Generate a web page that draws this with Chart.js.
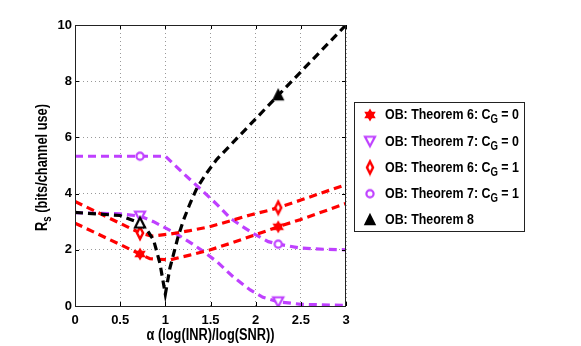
<!DOCTYPE html>
<html><head><meta charset="utf-8">
<script src="https://cdn.jsdelivr.net/npm/chart.js@4/dist/chart.umd.min.js"></script>
<style>html,body{margin:0;padding:0;background:#fff;}canvas{display:block;}</style>
</head><body>
<canvas id="c" width="581" height="346" style="width:581px;height:346px"></canvas>
<script>
// ---- data ----
const xTickValues = [0, 0.5, 1, 1.5, 2, 2.5, 3];
const yTickValues = [0, 2, 4, 6, 8, 10];
const xTitle = 'α (log(INR)/log(SNR))';
const yTitleMain = 'R', yTitleSub = 's', yTitleRest = ' (bits/channel use)';

const legendMain = ['OB: Theorem 6: C', 'OB: Theorem 7: C', 'OB: Theorem 6: C', 'OB: Theorem 7: C', 'OB: Theorem 8'];
const legendSub  = ['G', 'G', 'G', 'G', ''];
const legendRest = [' = 0', ' = 0', ' = 1', ' = 1', ''];

// Theorem 6, C_G = 0 (red, hexagram)
const alphaT6C0 = [0, 0.72, 0.83, 1.05, 1.27, 1.49, 1.72, 1.94, 2.25, 2.5, 3];
const rateT6C0  = [2.95, 1.85, 1.68, 1.64, 1.81, 1.99, 2.23, 2.47, 2.82, 3.08, 3.65];
// Theorem 7, C_G = 0 (purple, triangle down)
const alphaT7C0 = [0, 0.5, 0.72, 0.87, 1.11, 1.29, 1.4, 1.57, 1.75, 1.94, 2.08, 2.25, 2.5, 3];
const rateT7C0  = [3.32, 3.28, 3.2, 3.0, 2.59, 2.23, 1.99, 1.58, 1.04, 0.57, 0.31, 0.15, 0.06, 0.02];
// Theorem 6, C_G = 1 (red, diamond)
const alphaT6C1 = [0, 0.72, 0.85, 1.05, 1.27, 1.49, 1.72, 1.94, 2.14, 2.25, 2.5, 3];
const rateT6C1  = [3.72, 2.6, 2.49, 2.56, 2.68, 2.82, 3.03, 3.24, 3.4, 3.5, 3.77, 4.32];
// Theorem 7, C_G = 1 (purple, circle)
const alphaT7C1 = [0, 0.72, 1.0, 1.2, 1.38, 1.57, 1.72, 1.83, 1.97, 2.14, 2.25, 2.5, 2.75, 3];
const rateT7C1  = [5.33, 5.33, 5.33, 4.72, 4.19, 3.62, 3.12, 2.88, 2.59, 2.29, 2.2, 2.06, 2.02, 2.0];
// Theorem 8 (black, triangle up)
const alphaT8 = [0, 0.5, 0.72, 0.8, 0.87, 0.94, 1.0, 1.05, 1.14, 1.2, 1.27, 1.35, 1.45, 1.57, 2.25, 3];
const rateT8  = [3.33, 3.22, 2.95, 2.7, 2.35, 1.52, 0.42, 1.34, 2.45, 3.05, 3.62, 4.2, 4.7, 5.22, 7.5, 10];

// marker positions
const markerAlpha = [0.72, 2.25];
const markT6C0 = [1.85, 2.82];
const markT7C0 = [3.2, 0.15];
const markT6C1 = [2.6, 3.5];
const markT7C1 = [5.33, 2.2];
const markT8   = [2.95, 7.5];

// ---- styling ----
const FONT = "'Liberation Sans', Arial, sans-serif";
const RED = '#ff0000', PURPLE = '#bf40ff', BLACK = '#000000';
const SQ = 0.8; // horizontal condensation of the hand-drawn texts

function mk(w, h, draw) {
  const c = document.createElement('canvas'); c.width = w; c.height = h;
  const g = c.getContext('2d'); draw(g, w / 2, h / 2); return c;
}
function poly(g, pts) { g.beginPath(); pts.forEach((p, i) => i ? g.lineTo(p[0], p[1]) : g.moveTo(p[0], p[1])); g.closePath(); }

const mStar = mk(16, 16, (g, cx, cy) => {
  g.fillStyle = RED; const r = 6.6;
  for (let k = 0; k < 2; k++) {
    const pts = [];
    for (let i = 0; i < 3; i++) { const a = -Math.PI / 2 + k * Math.PI + i * 2 * Math.PI / 3; pts.push([cx + r * Math.cos(a), cy + r * Math.sin(a)]); }
    poly(g, pts); g.fill();
  }
});
const mTriDown = mk(16, 16, (g, cx, cy) => {
  poly(g, [[cx - 5, cy - 4.5], [cx + 5, cy - 4.5], [cx, cy + 5]]);
  g.fillStyle = '#fff'; g.fill(); g.lineWidth = 2.2; g.strokeStyle = PURPLE; g.stroke();
});
const mDiamond = mk(12, 18, (g, cx, cy) => {
  poly(g, [[cx, cy - 6], [cx + 3, cy], [cx, cy + 6], [cx - 3, cy]]);
  g.fillStyle = '#fff'; g.fill(); g.lineWidth = 2.5; g.strokeStyle = RED; g.stroke();
});
const mCircle = mk(14, 14, (g, cx, cy) => {
  g.beginPath(); g.arc(cx, cy, 3.6, 0, 2 * Math.PI);
  g.fillStyle = '#fff'; g.fill(); g.lineWidth = 2.2; g.strokeStyle = PURPLE; g.stroke();
});
const mTriUpOpen = mk(16, 16, (g, cx, cy) => {
  poly(g, [[cx, cy - 5.5], [cx + 5, cy + 4.5], [cx - 5, cy + 4.5]]);
  g.fillStyle = '#fff'; g.fill(); g.lineWidth = 2.2; g.strokeStyle = BLACK; g.stroke();
});
const mTriUp = mk(16, 16, (g, cx, cy) => {
  poly(g, [[cx, cy - 5.5], [cx + 5, cy + 4.5], [cx - 5, cy + 4.5]]);
  g.fillStyle = BLACK; g.fill(); g.lineWidth = 1.5; g.strokeStyle = BLACK; g.stroke();
});
const legendMarkers = [mStar, mTriDown, mDiamond, mCircle, mTriUp];

const pts = (xs, ys) => xs.map((x, i) => ({ x, y: ys[i] }));
const lineDs = (xs, ys, color) => ({
  type: 'line', data: pts(xs, ys), borderColor: color, borderWidth: 3.2, borderDash: [8, 5],
  pointRadius: 0, fill: false, tension: 0, borderCapStyle: 'butt'
});
const markDs = (ys, style) => ({
  type: 'line', data: pts(markerAlpha, ys), showLine: false, pointStyle: style,
  pointRadius: 6, borderWidth: 0, backgroundColor: 'transparent'
});

// draws text horizontally condensed (narrow Helvetica look)
function narrowText(ctx, txt, x, y, font) {
  ctx.save(); ctx.font = font; ctx.translate(x, y); ctx.scale(SQ, 1);
  ctx.fillText(txt, 0, 0); const w = ctx.measureText(txt).width * SQ; ctx.restore(); return w;
}
function narrowWidth(ctx, txt, font) { ctx.save(); ctx.font = font; const w = ctx.measureText(txt).width * SQ; ctx.restore(); return w; }

const chromePlugin = {
  id: 'chrome',
  afterDraw(chart) {
    const { ctx, chartArea: a, scales } = chart;
    ctx.save();
    // ticks inward
    ctx.strokeStyle = '#000'; ctx.lineWidth = 1;
    ctx.beginPath();
    xTickValues.forEach(v => {
      const x = Math.round(scales.x.getPixelForValue(v)) + 0.5;
      ctx.moveTo(x, a.bottom); ctx.lineTo(x, a.bottom - 4);
      ctx.moveTo(x, a.top); ctx.lineTo(x, a.top + 4);
    });
    yTickValues.forEach(v => {
      const y = Math.round(scales.y.getPixelForValue(v)) + 0.5;
      ctx.moveTo(a.left, y); ctx.lineTo(a.left + 4, y);
      ctx.moveTo(a.right, y); ctx.lineTo(a.right - 4, y);
    });
    ctx.stroke();
    // box
    ctx.strokeStyle = '#222'; ctx.lineWidth = 1;
    ctx.strokeRect(a.left + 0.5, a.top + 0.5, a.right - a.left - 1, a.bottom - a.top);

    ctx.fillStyle = '#000';
    ctx.textAlign = 'left'; ctx.textBaseline = 'middle';
    // x title
    const fT = 'bold 16px ' + FONT;
    const wx = narrowWidth(ctx, xTitle, fT);
    narrowText(ctx, xTitle, (a.left + a.right) / 2 - wx / 2, 336, fT);

    // y title with subscript
    ctx.save();
    ctx.translate(43, (a.top + a.bottom) / 2 + 2);
    ctx.rotate(-Math.PI / 2);
    const fSub = 'bold 12px ' + FONT;
    const w1 = narrowWidth(ctx, yTitleMain, fT), w2 = narrowWidth(ctx, yTitleSub, fSub), w3 = narrowWidth(ctx, yTitleRest, fT);
    let x0 = -(w1 + w2 + w3) / 2;
    x0 += narrowText(ctx, yTitleMain, x0, 0, fT);
    x0 += narrowText(ctx, yTitleSub, x0, 5, fSub);
    narrowText(ctx, yTitleRest, x0, 0, fT);
    ctx.restore();

    // legend
    const L = 354, T = 102, R = 524, B = 231;
    ctx.fillStyle = '#fff'; ctx.fillRect(L, T, R - L, B - T);
    ctx.strokeStyle = '#222'; ctx.lineWidth = 1; ctx.strokeRect(L + 0.5, T + 0.5, R - L, B - T);
    ctx.fillStyle = '#000';
    const fL = 'bold 15.5px ' + FONT, fLs = 'bold 12px ' + FONT;
    legendMain.forEach((txt, i) => {
      const y = 115 + i * 26.25;
      const m = legendMarkers[i];
      ctx.drawImage(m, 370 - m.width / 2, y - m.height / 2);
      let x = 385;
      x += narrowText(ctx, txt, x, y, fL);
      if (legendSub[i]) x += narrowText(ctx, legendSub[i], x, y + 5, fLs);
      if (legendRest[i]) narrowText(ctx, legendRest[i], x, y, fL);
    });
    ctx.restore();
  }
};

Chart.defaults.font.family = FONT;
Chart.defaults.font.size = 13;
Chart.defaults.font.weight = 'bold';
Chart.defaults.color = '#000';

new Chart(document.getElementById('c'), {
  type: 'line',
  data: {
    datasets: [
      markDs(markT8, [mTriUpOpen, mTriUp]),
      markDs(markT7C1, mCircle),
      markDs(markT6C1, mDiamond),
      markDs(markT7C0, mTriDown),
      markDs(markT6C0, mStar),
      lineDs(alphaT8, rateT8, BLACK),
      lineDs(alphaT6C1, rateT6C1, RED),
      lineDs(alphaT6C0, rateT6C0, RED),
      lineDs(alphaT7C0, rateT7C0, PURPLE),
      lineDs(alphaT7C1, rateT7C1, PURPLE)
    ]
  },
  options: {
    responsive: false, animation: false, devicePixelRatio: 1,
    layout: { padding: { left: 0, top: 25, right: 235, bottom: 0 } },
    plugins: { legend: { display: false }, tooltip: { enabled: false } },
    scales: {
      x: {
        type: 'linear', min: 0, max: 3,
        afterBuildTicks: s => { s.ticks = xTickValues.map(v => ({ value: v })); },
        afterFit: s => { s.height = 40; },
        ticks: { padding: 7, maxRotation: 0, autoSkip: false, callback: v => String(v) },
        grid: { color: 'rgba(0,0,0,0.4)', lineWidth: 1, drawTicks: false },
        border: { display: false, dash: [1, 3] }
      },
      y: {
        type: 'linear', min: 0, max: 10,
        afterBuildTicks: s => { s.ticks = yTickValues.map(v => ({ value: v })); },
        afterFit: s => { s.width = 75; },
        ticks: { padding: 3, autoSkip: false, callback: v => String(v) },
        grid: { color: 'rgba(0,0,0,0.4)', lineWidth: 1, drawTicks: false },
        border: { display: false, dash: [1, 3] }
      }
    }
  },
  plugins: [chromePlugin]
});
</script>
</body></html>
